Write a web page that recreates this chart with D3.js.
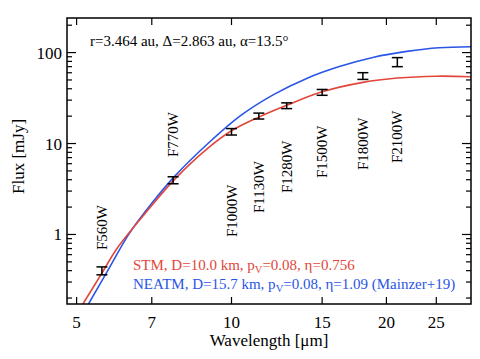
<!DOCTYPE html>
<html><head><meta charset="utf-8">
<script src="https://cdn.jsdelivr.net/npm/d3@7"></script>
<style>body{margin:0;background:#fff}svg{display:block}</style>
</head><body><svg id="c" width="480" height="359" font-family="'Liberation Serif', 'Times New Roman', Times, serif"></svg>
<script>
// Observed MIRI photometry
const filters = ["F560W","F770W","F1000W","F1130W","F1280W","F1500W","F1800W","F2100W"];
const obsWl   = [5.6, 7.7, 10.0, 11.3, 12.8, 15.0, 18.0, 21.0];
const obsFlux = [0.40, 3.96, 13.5, 20.1, 26.1, 36.6, 55.4, 79.0];
const obsErr  = [0.04, 0.35, 1.1, 1.5, 1.9, 2.7, 4.7, 9.0];
// Model curves
const stmWl   = [5.14, 5.6, 6.0, 6.9, 7.76, 9.0, 10.0, 11.3, 12.8, 15.0, 18.0, 21.0, 25.0, 29.2];
const stmFlux = [0.171, 0.376, 0.71, 1.89, 4.06, 8.9, 13.8, 19.5, 26.3, 37.0, 47.0, 52.5, 55.0, 54.3];
const neaWl   = [5.27, 5.8, 6.3, 7.0, 7.76, 9.0, 10.38, 12.07, 14.0, 16.2, 18.9, 21.9, 25.3, 29.2];
const neaFlux = [0.171, 0.437, 0.985, 2.2, 4.38, 10.0, 20.0, 34.5, 52.0, 70.1, 88.9, 103.0, 113.0, 116.0];
const xTicks = [5, 7, 10, 15, 20, 25];
const yMajor = [1, 10, 100];

const svg = d3.select("#c");
const L = 67, R = 471, T = 18, B = 304;
const x = d3.scaleLog().domain([4.79, 29.2]).range([L, R]);
const y = d3.scaleLog().domain([0.172, 240]).range([B, T]);
const red = "#e2463a", blue = "#2a55e6";

svg.append("defs").append("clipPath").attr("id","clip")
  .append("rect").attr("x",L).attr("y",T).attr("width",R-L).attr("height",B-T);

// curves
const line = d3.line().x(d=>x(d[0])).y(d=>y(d[1])).curve(d3.curveCatmullRom.alpha(0.5));
const g = svg.append("g").attr("clip-path","url(#clip)");
g.append("path").datum(neaWl.map((w,i)=>[w,neaFlux[i]])).attr("d",line)
  .attr("fill","none").attr("stroke",blue).attr("stroke-width",1.6);
g.append("path").datum(stmWl.map((w,i)=>[w,stmFlux[i]])).attr("d",line)
  .attr("fill","none").attr("stroke",red).attr("stroke-width",1.6);

// error bars
const eb = svg.append("g").attr("stroke","#000").attr("stroke-width",1.5);
obsWl.forEach((w,i)=>{
  const cx = x(w), y1 = y(obsFlux[i]+obsErr[i]), y0 = y(obsFlux[i]-obsErr[i]);
  eb.append("line").attr("x1",cx).attr("x2",cx).attr("y1",y1).attr("y2",y0);
  eb.append("line").attr("x1",cx-5.5).attr("x2",cx+5.5).attr("y1",y1).attr("y2",y1);
  eb.append("line").attr("x1",cx-5.5).attr("x2",cx+5.5).attr("y1",y0).attr("y2",y0);
});

// filter labels (rotated)
const labY = [250, 157, 237, 213, 193, 178, 170, 163];
filters.forEach((f,i)=>{
  svg.append("text").attr("transform",`translate(${x(obsWl[i])+5},${labY[i]}) rotate(-90)`)
    .attr("font-size",15).attr("fill","#000").text(f);
});

// frame
svg.append("rect").attr("x",L).attr("y",T).attr("width",R-L).attr("height",B-T)
  .attr("fill","none").attr("stroke","#000").attr("stroke-width",1.5);

// axes
const ax = svg.append("g").attr("stroke","#000").attr("stroke-width",1.2);
xTicks.forEach(t=>{
  ax.append("line").attr("x1",x(t)).attr("x2",x(t)).attr("y1",B).attr("y2",B-7);
  ax.append("line").attr("x1",x(t)).attr("x2",x(t)).attr("y1",T).attr("y2",T+7);
});
const yMinor = [];
[0.1,1,10,100].forEach(d=>{for(let k=2;k<=9;k++){const v=d*k; if(v>=0.172 && v<=240) yMinor.push(v);}});
yMajor.forEach(t=>{
  ax.append("line").attr("x1",L).attr("x2",L+9).attr("y1",y(t)).attr("y2",y(t));
  ax.append("line").attr("x1",R).attr("x2",R-9).attr("y1",y(t)).attr("y2",y(t));
});
yMinor.forEach(t=>{
  ax.append("line").attr("x1",L).attr("x2",L+5).attr("y1",y(t)).attr("y2",y(t));
  ax.append("line").attr("x1",R).attr("x2",R-5).attr("y1",y(t)).attr("y2",y(t));
});
xTicks.forEach(t=>{
  svg.append("text").attr("x",x(t)).attr("y",328).attr("text-anchor","middle")
    .attr("font-size",17).text(t);
});
yMajor.forEach(t=>{
  svg.append("text").attr("x",62).attr("y",y(t)+6).attr("text-anchor","end")
    .attr("font-size",17).text(t);
});
svg.append("text").attr("x",(L+R)/2).attr("y",346).attr("text-anchor","middle")
  .attr("font-size",17).text("Wavelength [μm]");
svg.append("text").attr("transform",`translate(23.5,156.5) rotate(-90)`)
  .attr("text-anchor","middle").attr("font-size",17).text("Flux [mJy]");

// annotations
svg.append("text").attr("x",90).attr("y",46).attr("font-size",15)
  .text("r=3.464 au, Δ=2.863 au, α=13.5°");
function legend(yy, col, pre, post){
  const t = svg.append("text").attr("x",133).attr("y",yy).attr("font-size",15).attr("fill",col);
  t.append("tspan").text(pre);
  t.append("tspan").attr("font-size",10.5).attr("dy",3).text("V");
  t.append("tspan").attr("dy",-3).text(post);
}
legend(270, red, "STM, D=10.0 km, p", "=0.08, η=0.756");
legend(288.5, blue, "NEATM, D=15.7 km, p", "=0.08, η=1.09 (Mainzer+19)");
</script></body></html>
